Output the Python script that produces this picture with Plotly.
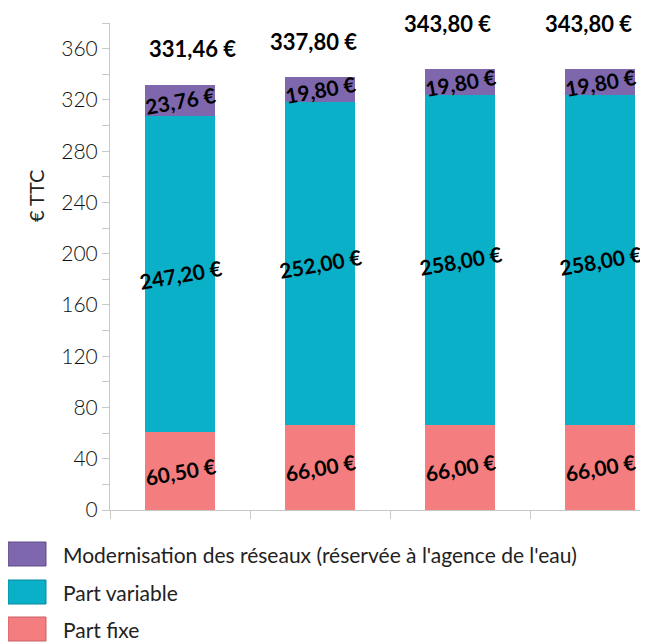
import plotly.graph_objects as go

categories = ["1", "2", "3", "4"]
part_fixe = [60.50, 66.00, 66.00, 66.00]
part_variable = [247.20, 252.00, 258.00, 258.00]
modernisation = [23.76, 19.80, 19.80, 19.80]
totals = [331.46, 337.80, 343.80, 343.80]
series_names = ["Part fixe", "Part variable", "Modernisation des réseaux (réservée à l'agence de l'eau)"]
y_ticks = [0, 40, 80, 120, 160, 200, 240, 280, 320, 360]

colors = ["#F47D80", "#0AAFC8", "#7E67AD"]
borders = ["#c96064", "#078a9e", "#5e4d85"]
FONT = "Lato"

OFF = 8  # default page body margin
W, H = 648 - OFF, 642 - OFF
PX_L, PX_T, PX_B = 110, 23, 510
L = PX_L - OFF
T = PX_T - OFF
B = H - (PX_B - OFF)
R = 0
PW, PH = W - L - R, H - T - B

def px_to_paper_x(px):
    return (px - PX_L) / PW

def px_to_paper_y(py):
    return (PX_B - py) / PH

def fmt(v):
    return f"{v:.2f}".replace(".", ",") + " €"

x = list(range(len(categories)))
series = [part_fixe, part_variable, modernisation]

fig = go.Figure()
for name, vals, col in zip(series_names, series, colors):
    fig.add_trace(go.Bar(x=x, y=vals, name=name, marker=dict(color=col, line=dict(width=0)),
                         width=0.507, showlegend=False, hoverinfo="skip"))

annotations = []
for i in x:
    base = 0
    for vals in series:
        v = vals[i]
        annotations.append(dict(x=i, y=base + v / 2, xref="x", yref="y", text=fmt(v),
                                showarrow=False, textangle=-10,
                                font=dict(family=FONT, size=21, color="#000", weight="bold")))
        base += v
tshift_y = [37, 36, 46, 46]
tshift_x = [12, -7, -13, -12]
for i in x:
    annotations.append(dict(x=i, y=totals[i], xref="x", yref="y", text=fmt(totals[i]),
                            showarrow=False, yshift=tshift_y[i], xshift=tshift_x[i],
                            font=dict(family=FONT, size=22, color="#000", weight="bold")))
annotations.append(dict(x=px_to_paper_x(22), y=px_to_paper_y(196), xref="paper", yref="paper",
                        text="€ TTC", textangle=-90, showarrow=False,
                        font=dict(family=FONT, size=20, color="#222")))

shapes = []
legend_rows = [554, 592, 629]
for row, name, col, bc in zip(legend_rows, series_names[::-1], colors[::-1], borders[::-1]):
    shapes.append(dict(type="rect", xref="paper", yref="paper",
                       x0=px_to_paper_x(8), x1=px_to_paper_x(46),
                       y0=px_to_paper_y(row + 12), y1=px_to_paper_y(row - 12),
                       fillcolor=col, line=dict(color=bc, width=1)))
    annotations.append(dict(x=px_to_paper_x(61), y=px_to_paper_y(row), xref="paper", yref="paper",
                            text=name, showarrow=False, xanchor="left", yanchor="middle",
                            font=dict(family=FONT, size=21, color="#222")))

fig.update_layout(
    barmode="stack",
    width=W, height=H,
    margin=dict(l=L, r=R, t=T, b=B),
    plot_bgcolor="white", paper_bgcolor="white",
    font=dict(family=FONT, color="#222"),
    annotations=annotations, shapes=shapes,
    xaxis=dict(range=[-0.5, -0.5 + PW / 140], showgrid=False, zeroline=False,
               showline=True, linecolor="#c8c8c8", linewidth=1,
               tickmode="array", tickvals=[-0.5, 0.5, 1.5, 2.5], ticktext=["", "", "", ""],
               ticks="outside", ticklen=8, tickcolor="#c8c8c8", tickwidth=1),
    yaxis=dict(range=[0, 380], showgrid=False, zeroline=False,
               showline=True, linecolor="#c8c8c8", linewidth=1,
               tickmode="array", tickvals=y_ticks,
               ticks="outside", ticklen=7, tickcolor="#c8c8c8",
               minor=dict(dtick=20, ticks="outside", ticklen=7, tickcolor="#c8c8c8", showgrid=False),
               tickfont=dict(family=FONT, size=21, color="#111", weight=300)),
)

fig.write_html("out.html")
